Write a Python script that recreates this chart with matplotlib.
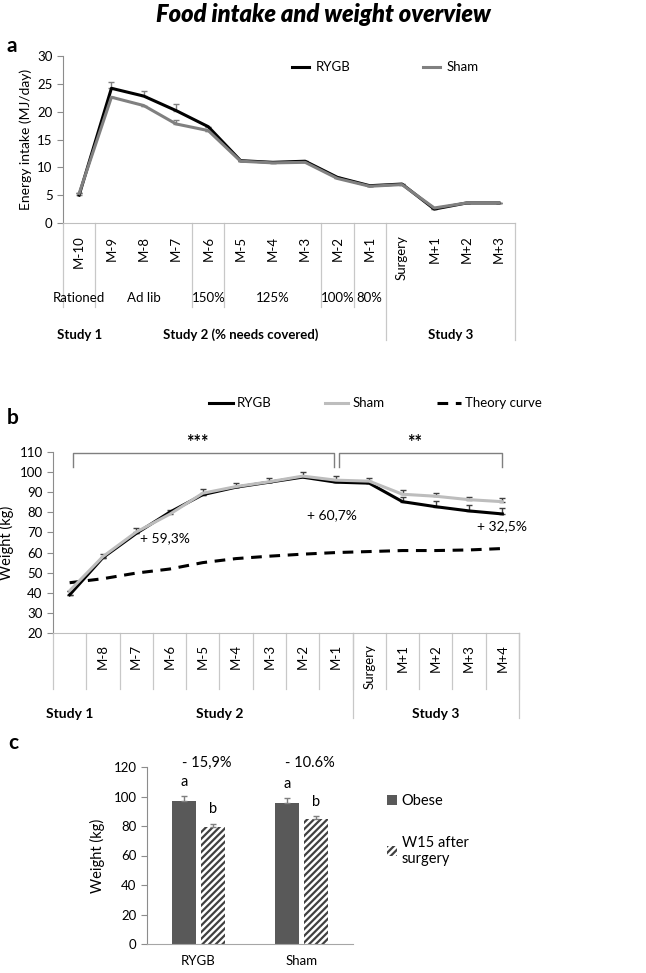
import numpy as np
import matplotlib
matplotlib.use("Agg")
import matplotlib.pyplot as plt
from matplotlib.patches import Patch
from matplotlib.lines import Line2D

plt.rcParams["font.family"] = ["Lato", "DejaVu Sans"]
plt.rcParams["hatch.linewidth"] = 1.6

# --- Data ---

# panel a: energy intake (MJ/day)
a_months = ["M-10", "M-9", "M-8", "M-7", "M-6", "M-5", "M-4", "M-3",
            "M-2", "M-1", "Surgery", "M+1", "M+2", "M+3"]
a_rygb = [5.0, 24.2, 22.8, 20.2, 17.3, 11.2, 10.9, 11.1, 8.2, 6.7, 7.0, 2.5, 3.6, 3.6]
a_sham = [5.3, 22.6, 21.1, 17.8, 16.6, 11.1, 10.8, 10.9, 8.0, 6.6, 6.9, 2.7, 3.6, 3.6]
a_rygb_err = [0.3, 1.1, 1.0, 1.1, 0, 0, 0, 0, 0, 0, 0, 0, 0, 0]
a_sham_err = [0, 0, 0, 0.7, 0, 0, 0, 0, 0, 0, 0, 0, 0, 0]
a_diets = ["Rationed", "Ad lib", "150%", "125%", "100%", "80%"]
a_diet_spans = [(0, 0), (1, 3), (4, 4), (5, 7), (8, 8), (9, 9)]
a_studies = ["Study 1", "Study 2 (% needs covered)", "Study 3"]
a_study_spans = [(0, 0), (1, 9), (10, 13)]

# panel b: body weight (kg)
b_months = ["", "M-8", "M-7", "M-6", "M-5", "M-4", "M-3", "M-2", "M-1",
            "Surgery", "M+1", "M+2", "M+3", "M+4"]
b_rygb = [39.0, 57.5, 69.5, 80.0, 88.8, 92.5, 95.0, 97.5, 95.0, 94.5, 85.3, 82.8, 80.7, 79.2]
b_sham = [41.0, 58.0, 70.2, 79.0, 89.5, 92.8, 95.2, 98.0, 96.0, 95.5, 89.0, 88.0, 86.3, 85.3]
b_sham_err = [0, 1.5, 1.8, 2.0, 2.0, 2.0, 2.0, 2.0, 2.0, 1.5, 2.0, 1.8, 1.5, 2.0]
b_rygb_err = [0, 0, 0, 0, 0, 0, 0, 0, 0, 0, 2.5, 3.0, 3.0, 3.0]
b_theory = [45.0, 47.0, 49.8, 51.8, 55.0, 57.0, 58.2, 59.2, 60.0, 60.5, 61.0, 61.0, 61.3, 62.0]
b_studies = ["Study 1", "Study 2", "Study 3"]
b_study_spans = [(0, 0), (1, 8), (9, 13)]

# panel c: weight before / after surgery
c_groups = ["RYGB", "Sham"]
c_obese = [97.0, 95.5]
c_obese_err = [3.5, 3.5]
c_w15 = [79.5, 85.0]
c_w15_err = [2.0, 1.5]
c_change = ["- 15,9%", "- 10.6%"]

# --- Layout helpers ---

W, H = 646, 973
fig = plt.figure(figsize=(W / 100, H / 100), dpi=100)


def add_axes_px(left, top, right, bottom):
    return fig.add_axes([left / W, 1 - bottom / H, (right - left) / W, (bottom - top) / H])


def excel_style(ax):
    for side in ("top", "right"):
        ax.spines[side].set_visible(False)
    ax.spines["left"].set_color("#8c8c8c")
    ax.spines["bottom"].set_color("#bfbfbf")
    ax.tick_params(axis="y", colors="#8c8c8c", labelcolor="black", length=4, labelsize=9.5)


GRID = "#c8c8c8"
DASH = (0, (3.5, 2.5))

fig.text(0.5, 1 - 15 / H, "Food intake and weight overview", ha="center", va="center",
         fontsize=17, fontweight="heavy", fontstyle="italic")

# --- Panel a ---

ax = add_axes_px(63, 56, 515, 223)
excel_style(ax)
x = np.arange(len(a_months))
ax.errorbar(x, a_rygb, yerr=[np.zeros(len(x)), a_rygb_err], fmt="none",
            ecolor="#808080", elinewidth=1, capsize=2)
ax.errorbar(x, a_sham, yerr=[np.zeros(len(x)), a_sham_err], fmt="none",
            ecolor="#808080", elinewidth=1, capsize=2)
ax.plot(x, a_rygb, color="black", lw=2.2, label="RYGB")
ax.plot(x, a_sham, color="#808080", lw=2.2, label="Sham")
ax.set_xlim(-0.5, len(x) - 0.5)
ax.set_ylim(0, 30)
ax.set_yticks(range(0, 31, 5))
ax.set_xticks(x, a_months, rotation=90, fontsize=9.5)
ax.tick_params(axis="x", length=0, pad=9)
ax.set_ylabel("Energy intake (MJ/day)", fontsize=10, labelpad=4)
ax.legend(loc="upper left", bbox_to_anchor=(0.48, 1.04), ncol=2, frameon=False,
          fontsize=9.5, handlelength=1.3, handletextpad=0.5, columnspacing=5.5)

xt = ax.get_xaxis_transform()
for s, e in a_diet_spans:
    ax.plot([s - 0.5, s - 0.5], [0, -0.50], color=GRID, lw=0.9, transform=xt, clip_on=False)
for s, e in a_study_spans[2:]:
    ax.plot([s - 0.5, s - 0.5], [0, -0.70], color=GRID, lw=0.9, transform=xt, clip_on=False)
    ax.plot([e + 0.5, e + 0.5], [0, -0.70], color=GRID, lw=0.9, transform=xt, clip_on=False)
for label, (s, e) in zip(a_diets, a_diet_spans):
    ax.text((s + e) / 2, -0.45, label, ha="center", va="center", fontsize=9.5,
            transform=xt)
for label, (s, e) in zip(a_studies, a_study_spans):
    ax.text((s + e) / 2, -0.67, label, ha="center", va="center", fontsize=9.5,
            fontweight="bold", transform=xt)
fig.text(12 / W, 1 - 46 / H, "a", fontsize=15, fontweight="bold", ha="center", va="center")

# --- Panel b ---

ax = add_axes_px(53, 452, 519, 633)
excel_style(ax)
x = np.arange(len(b_months))
ax.plot(x, b_theory, color="black", lw=2.2, ls=DASH, label="Theory curve")
ax.errorbar(x, b_sham, yerr=[np.zeros(len(x)), b_sham_err], fmt="none",
            ecolor="#404040", elinewidth=1, capsize=2)
ax.errorbar(x, b_rygb, yerr=[np.zeros(len(x)), b_rygb_err], fmt="none",
            ecolor="#404040", elinewidth=1, capsize=2)
ax.plot(x, b_rygb, color="black", lw=2.2, label="RYGB")
ax.plot(x, b_sham, color="#bdbdbd", lw=2.2, label="Sham")
ax.set_xlim(-0.5, len(x) - 0.5)
ax.set_ylim(20, 110)
ax.set_yticks(range(20, 111, 10))
ax.set_xticks(x, b_months, rotation=90, fontsize=9.5)
ax.tick_params(axis="x", length=0, pad=8)
ax.set_ylabel("Weight (kg)", fontsize=10.5, labelpad=4)
handles = [Line2D([], [], color="black", lw=2.2),
           Line2D([], [], color="#bdbdbd", lw=2.2),
           Line2D([], [], color="black", lw=2.2, ls=DASH)]
ax.legend(handles, ["RYGB", "Sham", "Theory curve"], loc="lower left",
          bbox_to_anchor=(0.31, 1.17), ncol=3, frameon=False, fontsize=9.5,
          handlelength=1.8, handletextpad=0.3, columnspacing=4.0)

# significance brackets
for (x0, x1), stars in zip([(0.1, 7.95), (8.1, 13.0)], ["***", "**"]):
    ax.plot([x0, x0, x1, x1], [102.6, 109.5, 109.5, 102.6], color="#7f7f7f",
            lw=1, clip_on=False)
    ax.text((x0 + x1) / 2 - 0.2, 114.8, stars, ha="center", va="center", fontsize=13,
            fontweight="bold", clip_on=False)
ax.text(2.86, 67.2, "+ 59,3%", ha="center", va="center", fontsize=10)
ax.text(7.88, 78.6, "+ 60,7%", ha="center", va="center", fontsize=10)
ax.text(12.98, 73.2, "+ 32,5%", ha="center", va="center", fontsize=10)

xt = ax.get_xaxis_transform()
for i in range(len(x) + 1):
    ax.plot([i - 0.5, i - 0.5], [0, -0.31], color=GRID, lw=0.9, transform=xt, clip_on=False)
for s, e in b_study_spans[2:]:
    ax.plot([s - 0.5, s - 0.5], [0, -0.47], color=GRID, lw=0.9, transform=xt, clip_on=False)
    ax.plot([e + 0.5, e + 0.5], [0, -0.47], color=GRID, lw=0.9, transform=xt, clip_on=False)
for label, (s, e) in zip(b_studies, b_study_spans):
    ax.text((s + e) / 2, -0.445, label, ha="center", va="center", fontsize=10,
            fontweight="bold", transform=xt)
fig.text(13 / W, 1 - 418 / H, "b", fontsize=15, fontweight="bold", ha="center", va="center")

# --- Panel c ---

ax = add_axes_px(147, 767, 353, 944)
excel_style(ax)
ax.spines["bottom"].set_color("#a6a6a6")
gx = np.arange(len(c_groups))
off, bw = 0.142, 0.235
ax.bar(gx - off, c_obese, bw, color="#595959", yerr=[[0, 0], c_obese_err],
       error_kw=dict(ecolor="#7f7f7f", elinewidth=1, capsize=2), label="Obese")
ax.bar(gx + off, c_w15, bw, color="white", edgecolor="#404040", linewidth=0, hatch="/////",
       yerr=[[0, 0], c_w15_err], error_kw=dict(ecolor="#7f7f7f", elinewidth=1, capsize=2),
       label="W15 after\nsurgery")
for i in gx:
    ax.text(i - off, c_obese[i] + c_obese_err[i] + 9.5, "a", ha="center", va="center", fontsize=10.5)
    ax.text(i + off, c_w15[i] + c_w15_err[i] + 10, "b", ha="center", va="center", fontsize=10.5)
    ax.text(i + 0.08, 122.7, c_change[i], ha="center", va="center", fontsize=10.5, clip_on=False)
ax.set_xlim(-0.5, 1.5)
ax.set_ylim(0, 120)
ax.set_yticks(range(0, 121, 20))
ax.set_xticks(gx, c_groups, fontsize=9.5)
ax.tick_params(axis="x", length=0, pad=8)
ax.set_ylabel("Weight (kg)", fontsize=10.5, labelpad=6)
fig.legend(handles=[Patch(facecolor="#595959"),
                    Patch(facecolor="white", edgecolor="#404040", linewidth=0, hatch="/////")],
           labels=["Obese", "W15 after\nsurgery"], loc="upper left",
           bbox_to_anchor=(374 / W, 1 - 781 / H), frameon=False, fontsize=10.5,
           handlelength=0.7, handleheight=0.7, handletextpad=0.3, labelspacing=1.9)
fig.text(13 / W, 1 - 743 / H, "c", fontsize=15, fontweight="bold", ha="center", va="center")

fig.savefig("out.png", dpi=100)
